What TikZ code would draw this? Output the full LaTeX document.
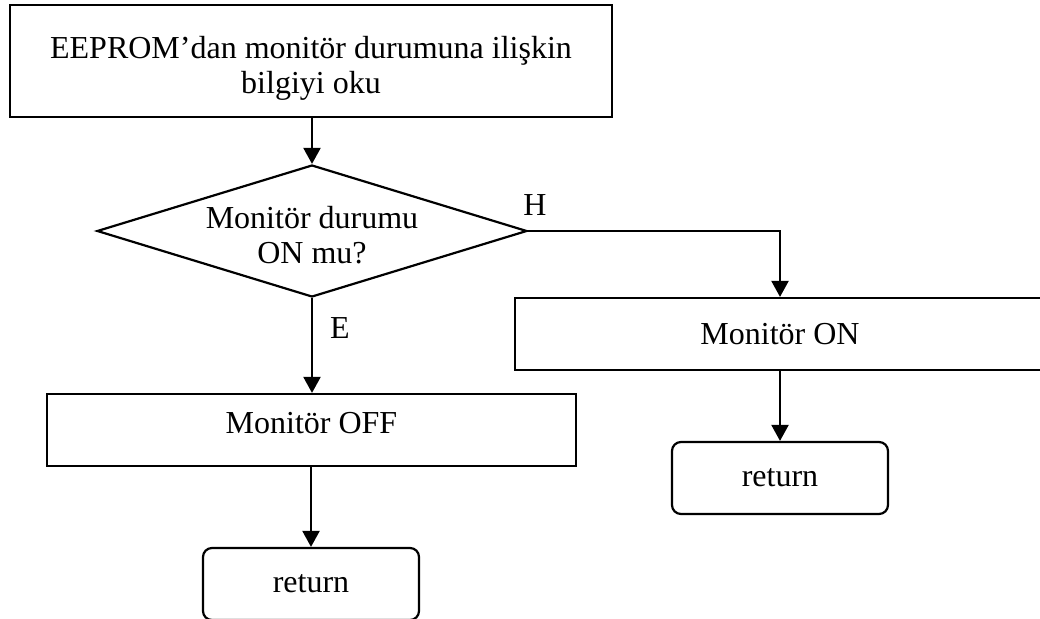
\documentclass[tikz,border=0pt]{standalone}
\usepackage{fontspec}
\setmainfont{Liberation Serif}
\usetikzlibrary{shapes.geometric,arrows.meta}
\begin{document}
\begin{tikzpicture}[x=1pt,y=-1pt,
  font=\fontsize{32}{35}\selectfont,
  every node/.style={line width=2.2pt},
  procbox/.style={draw,rectangle,align=center,inner sep=0pt},
  termbox/.style={draw,rectangle,rounded corners=9pt,inner sep=0pt},
  decbox/.style={draw,diamond,aspect=3.26,align=center,inner ysep=0pt,inner xsep=-12pt},
  arr/.style={line width=2.2pt,-{Triangle[width=17pt,length=16pt]}},
  lbl/.style={inner sep=0pt}]
\useasboundingbox (0,0) rectangle (1040,618);
\clip (0,0) rectangle (1040,618);

% process boxes
\node[procbox,minimum width=602pt,minimum height=112pt] (top) at (311,61)
  {\rule{0pt}{36pt}EEPROM’dan monitör durumuna ilişkin\\bilgiyi oku};
\node[decbox,minimum width=430pt,minimum height=132pt] (dec) at (312,231)
  {\rule{0pt}{31pt}Monitör durumu\\ON mu?};
\node[procbox,minimum width=530pt,minimum height=72pt] (on) at (780,334) {Monitör ON};
\node[procbox,minimum width=529pt,minimum height=72pt,text depth=14pt] (off) at (311.5,430) {Monitör OFF};

% terminators
\node[termbox,minimum width=216pt,minimum height=72pt] (retR) at (780,478) {return};
\node[termbox,minimum width=216pt,minimum height=72pt] (retL) at (311,584) {return};

% branch labels
\node[lbl] (hl) at (535,205) {H};
\node[lbl] (el) at (340,328) {E};

% connectors
\draw[arr] (dec.north |- top.south) -- (dec.north);
\draw[arr] (dec.east) -| (on.north);
\draw[arr] (on.south) -- (retR.north);
\draw[arr] (dec.south) -- (dec.south |- off.north);
\draw[arr] (off.south -| retL.north) -- (retL.north);
\end{tikzpicture}
\end{document}
